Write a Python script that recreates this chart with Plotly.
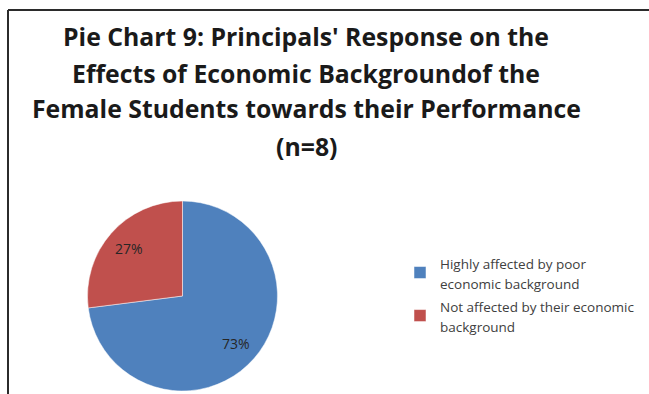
import math
import plotly.graph_objects as go

categories = [["Highly affected by poor", "economic background"],
              ["Not affected by their economic", "background"]]
values = [73, 27]
colors = ["#4F81BD", "#C0504D"]
title_lines = ["Pie Chart 9: Principals' Response on the",
               "Effects of Economic Backgroundof the",
               "Female Students towards their Performance",
               "(n=8)"]

W, H = 649, 394
cx, cy, r = 182.5, 296, 95

legend_names = ["<br>".join(f"<span style='font-size:13.5px'>{ln}</span>" for ln in c) for c in categories]

fig = go.Figure(go.Pie(
    labels=legend_names, values=values, sort=False, direction="clockwise", rotation=0,
    marker=dict(colors=colors, line=dict(color="white", width=0.5)),
    textinfo="none",
    domain=dict(x=[(cx - r) / W, (cx + r) / W], y=[(H - cy - r) / H, (H - cy + r) / H]),
    hoverinfo="percent",
))

# percentage labels placed inside each slice, derived from the values
total = sum(values)
cum = 0
for v in values:
    mid = (cum + v / 2) / total * 2 * math.pi  # clockwise from 12 o'clock
    cum += v
    lx = cx + 0.75 * r * math.sin(mid)
    ly = cy - 0.75 * r * math.cos(mid)
    fig.add_annotation(text=f"{round(v / total * 100)}%", x=lx / W, y=1 - ly / H,
                       xref="paper", yref="paper", xanchor="center", yanchor="middle",
                       showarrow=False, font=dict(family="Open Sans", size=14, color="#262626"))

title_y = [36.5, 72.5, 108.5, 145.5]
for txt, yy in zip(title_lines, title_y):
    fig.add_annotation(text="<b>" + txt + "</b>", x=306 / W, y=1 - yy / H, xref="paper", yref="paper",
                       xanchor="center", yanchor="middle", showarrow=False,
                       font=dict(family="Open Sans", size=24.8, color="#1a1a1a"))

fig.add_shape(type="line", xref="paper", yref="paper", x0=8 / W, x1=1, y0=1 - 10 / H, y1=1 - 10 / H,
              line=dict(color="#2b2b2b", width=2))
fig.add_shape(type="line", xref="paper", yref="paper", x0=8 / W, x1=8 / W, y0=0, y1=1 - 10 / H,
              line=dict(color="#2b2b2b", width=2))

fig.update_layout(
    width=W, height=H, margin=dict(l=0, r=0, t=0, b=0),
    paper_bgcolor="white", plot_bgcolor="white",
    showlegend=True,
    legend=dict(x=400 / W, y=1 - 246 / H, xanchor="left", yanchor="top",
                font=dict(family="Open Sans", size=15.4, color="#404040"),
                itemwidth=30),
)

fig.write_html("out.html", config={"displayModeBar": False},
               post_script="document.body.style.margin='0';document.body.style.overflow='hidden';")
